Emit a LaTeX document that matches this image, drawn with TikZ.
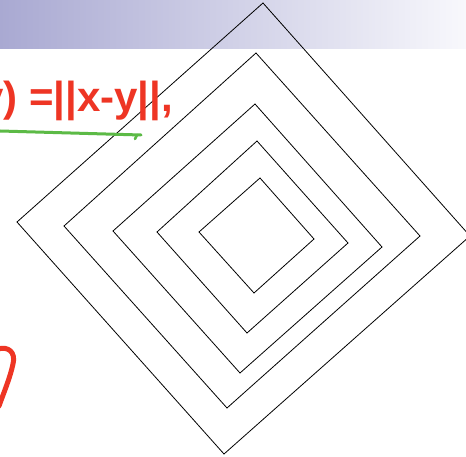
\documentclass[tikz,border=0pt]{standalone}
\usepackage{fontspec}
\usetikzlibrary{calc}
\newfontfamily\handfont{Liberation Sans}
\definecolor{barleft}{RGB}{169,169,210}
\definecolor{barright}{RGB}{248,248,252}
\definecolor{inkred}{RGB}{238,53,36}
\definecolor{inkgreen}{RGB}{92,186,70}
\begin{document}
\begin{tikzpicture}[x=1pt,y=-1pt,
  sqline/.style={black,line width=0.8pt,line join=miter},
  inkstroke/.style={line width=5pt,line cap=round,line join=round}]
\useasboundingbox (0,0) rectangle (466,457);
\clip (0,0) rectangle (466,457);
\fill[white] (0,0) rectangle (466,457);
\shade[left color=barleft,right color=barright] (0,0) rectangle (466,49);
% diamonds
\coordinate (a1) at (263,3);   \coordinate (b1) at (470,236); \coordinate (c1) at (224,454); \coordinate (d1) at (17,222);
\coordinate (a2) at (256,53);  \coordinate (b2) at (420,236); \coordinate (c2) at (227,408); \coordinate (d2) at (64,226);
\coordinate (a3) at (255,104); \coordinate (b3) at (382,247); \coordinate (c3) at (240,373); \coordinate (d3) at (113,231);
\coordinate (a4) at (257,141); \coordinate (b4) at (348,243); \coordinate (c4) at (247,333); \coordinate (d4) at (157,232);
\coordinate (a5) at (260,178); \coordinate (b5) at (314,239); \coordinate (c5) at (254,293); \coordinate (d5) at (199,232);
\foreach \i in {1,...,5}{
  \draw[sqline] (a\i) -- (b\i) -- (c\i) -- (d\i) -- cycle;
}
% handwriting
\node[anchor=base west, inner sep=0, text=inkred, font=\handfont\bfseries\fontsize{42}{42}\selectfont] (formula) at (-20,112) {y) =||x-y||,};
\coordinate (g0) at (0,131);
\coordinate (g1) at (141,135);
\coordinate (g3) at (137,135);
\coordinate (g2) at (135,139);
\draw[inkgreen,line width=3pt,line cap=round] (g0) -- (g1);
\draw[inkgreen,line width=2.5pt,line cap=round] (g3) -- (g2);
\coordinate (r0) at (-2,349);
\coordinate (r1) at (13,364);
\coordinate (r2) at (-1,406);
\draw[inkred,inkstroke] (r0) .. controls (8,346) and (16,352) .. (r1) .. controls (10,378) and (4,392) .. (r2);
\end{tikzpicture}
\end{document}
